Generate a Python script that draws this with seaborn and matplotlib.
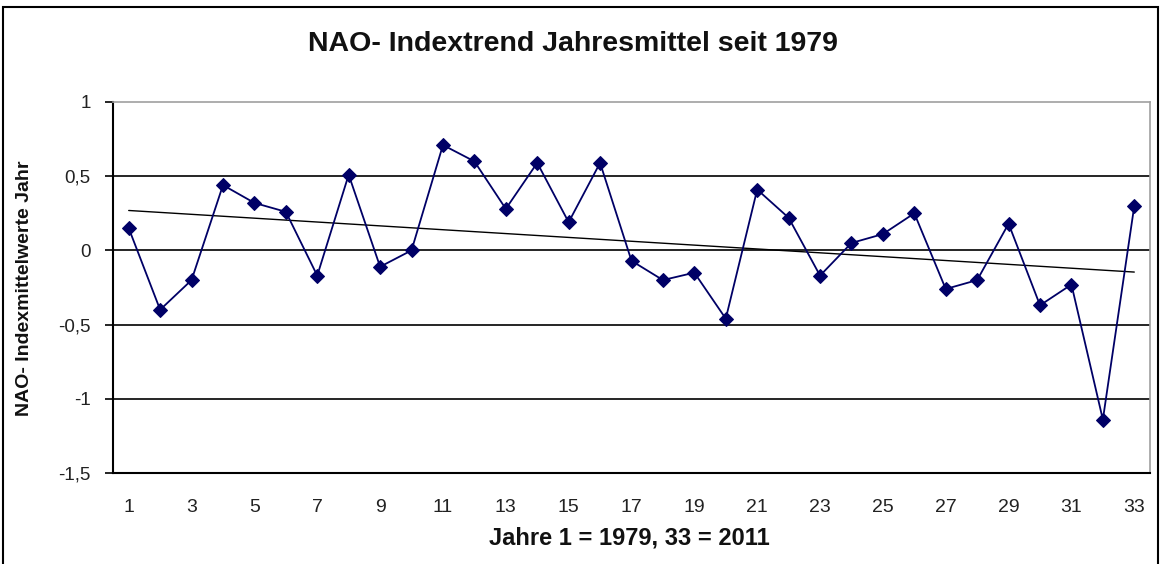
import numpy as np
import pandas as pd
import matplotlib
matplotlib.use("Agg")
import matplotlib.pyplot as plt
import seaborn as sns
from matplotlib.patches import Rectangle
from matplotlib.ticker import FixedLocator

# Jahre 1 = 1979 ... 33 = 2011
jahre = list(range(1, 34))
nao_index = [0.15, -0.40, -0.20, 0.44, 0.32, 0.26, -0.17, 0.51, -0.11, 0.00,
             0.71, 0.60, 0.28, 0.59, 0.19, 0.59, -0.07, -0.20, -0.15, -0.46,
             0.41, 0.22, -0.17, 0.05, 0.11, 0.25, -0.26, -0.20, 0.18, -0.37,
             -0.23, -1.14, 0.30]
y_ticks = [-1.5, -1, -0.5, 0, 0.5, 1]
y_labels = ["-1,5", "-1", "-0,5", "0", "0,5", "1"]
x_labels = list(range(1, 34, 2))

df = pd.DataFrame({"Jahr": jahre, "NAO": nao_index})

sns.set_theme(style="white")
plt.rcParams["font.family"] = ["Liberation Sans", "DejaVu Sans"]

W, H = 1163, 564
fig = plt.figure(figsize=(W / 100, H / 100), dpi=100)
ax = fig.add_axes([113 / W, 1 - 473 / H, 1037 / W, 371 / H])

# rahmen um das ganze diagramm
fig.patches.append(Rectangle((3 / W, -0.01), 1155 / W, 1 - 7 / H + 0.01,
                             transform=fig.transFigure, fill=False,
                             edgecolor="black", linewidth=1.5))

for y in [-1, -0.5, 0, 0.5]:
    ax.axhline(y, color="black", linewidth=1.2, zorder=1)

sns.lineplot(data=df, x="Jahr", y="NAO", ax=ax, color="#000066", linewidth=1.3,
             marker="D", markersize=7.5, markeredgecolor="#000066", zorder=3)
sns.regplot(data=df, x="Jahr", y="NAO", ax=ax, scatter=False, ci=None,
            color="black", line_kws={"linewidth": 1.0, "zorder": 2})

ax.set_xlim(0.5, 33.5)
ax.set_ylim(-1.5, 1)

ax.set_yticks(y_ticks)
ax.set_yticklabels(y_labels, fontsize=13.5, color="#222222")
ax.set_xticks(x_labels)
ax.set_xticklabels([str(x) for x in x_labels], fontsize=14, color="#222222")
ax.xaxis.set_minor_locator(FixedLocator(np.arange(0.5, 34, 1)))
ax.tick_params(axis="x", which="major", length=0, pad=19)
ax.tick_params(axis="x", which="minor", length=6, width=1.2, color="black", direction="out")
ax.tick_params(axis="y", length=6, width=1.2, color="black", direction="out", left=True, pad=10)

for side in ["left", "bottom"]:
    ax.spines[side].set_color("black")
    ax.spines[side].set_linewidth(1.5)
for side in ["top", "right"]:
    ax.spines[side].set_color("#a0a0a0")
    ax.spines[side].set_linewidth(1.2)

ax.set_xlabel("")
ax.set_ylabel("")
fig.text(573 / W, 1 - 44 / H, "NAO- Indextrend Jahresmittel seit 1979",
         fontsize=20.5, fontweight="bold", color="#111111", ha="center", va="center")
fig.text(629 / W, 1 - 538 / H, "Jahre 1 = 1979, 33 = 2011",
         fontsize=17, fontweight="bold", color="#111111", ha="center", va="center")
fig.text(25 / W, 1 - 288 / H, "NAO- Indexmittelwerte Jahr", rotation=90,
         fontsize=14, fontweight="bold", color="#111111", ha="center", va="center")

fig.savefig("out.png", dpi=100, facecolor="white")
